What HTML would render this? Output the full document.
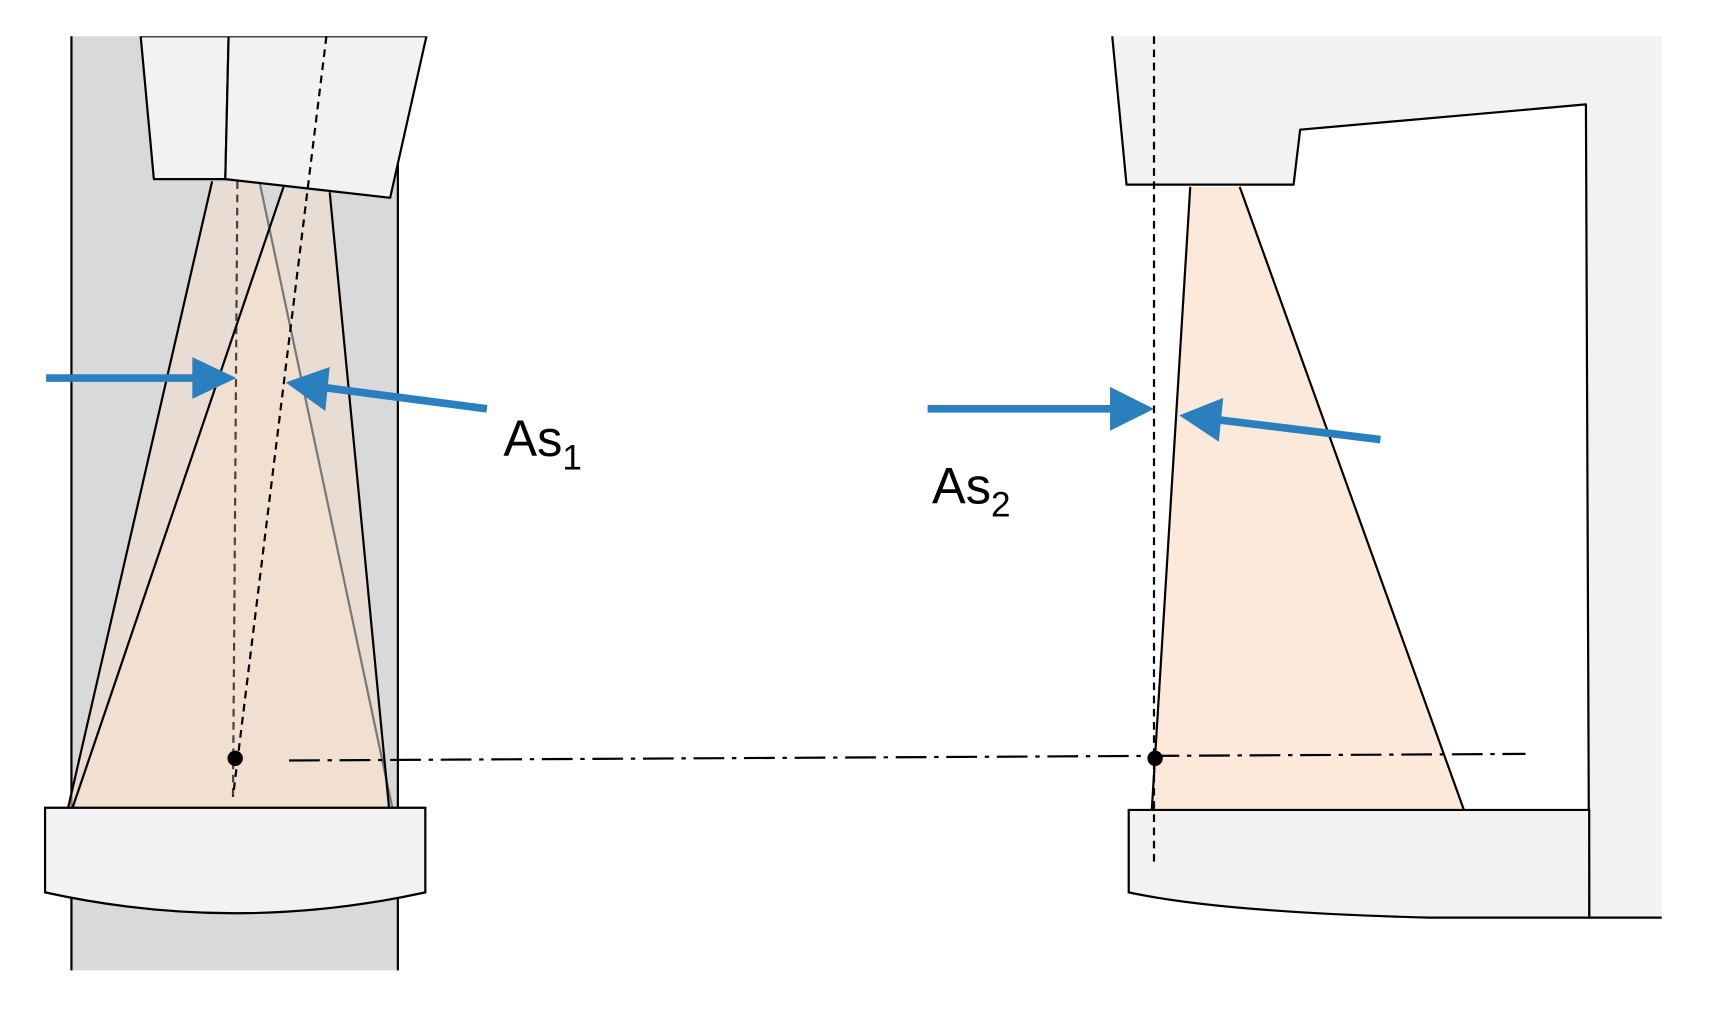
<!DOCTYPE html>
<html><head><meta charset="utf-8"><style>html,body{margin:0;padding:0;background:#fff;}svg{display:block}</style></head>
<body>
<svg width="1720" height="1016" viewBox="0 0 1565 924.5" preserveAspectRatio="none" xmlns="http://www.w3.org/2000/svg">
<!-- LEFT PANEL -->
<rect x="65" y="33" width="297" height="850" fill="#d9d9d9"/>
<line x1="65" y1="33" x2="65" y2="883" stroke="#000" stroke-width="2"/>
<line x1="362" y1="140" x2="362" y2="883" stroke="#000" stroke-width="2"/>
<!-- beams -->
<polygon points="193,165 236,165 357,735 62,735" fill="rgb(250,225,205)" fill-opacity="0.5"/>
<polygon points="258,172 300,175 352,735 68,735" fill="rgb(250,225,205)" fill-opacity="0.5"/>
<line x1="193" y1="165" x2="62" y2="735" stroke="#000" stroke-width="2"/>
<line x1="236" y1="165" x2="357" y2="735" stroke="#777" stroke-width="2"/>
<line x1="258" y1="170" x2="66" y2="735" stroke="#000" stroke-width="2"/>
<line x1="300" y1="175" x2="354" y2="735" stroke="#000" stroke-width="2"/>
<!-- upper lens -->
<polygon points="128,33 208,33 205,163 140,163" fill="#f2f2f2" stroke="#000" stroke-width="2" stroke-linejoin="round"/>
<polygon points="208,33 388,33 355,180 205,163" fill="#f2f2f2" stroke="#000" stroke-width="2" stroke-linejoin="round"/>
<rect x="127" y="30" width="262" height="3" fill="#fff"/>
<!-- dashed -->
<line x1="216" y1="165" x2="212" y2="725" stroke="#000" stroke-width="2" stroke-dasharray="7,5" stroke-opacity="0.7"/>
<line x1="297" y1="33" x2="212" y2="725" stroke="#000" stroke-width="2" stroke-dasharray="7,5"/>
<circle cx="214" cy="690" r="7" fill="#000"/>
<!-- bottom lens -->
<path d="M41,735 L387,735 L387,812 Q214,850 41,812 Z" fill="#f2f2f2" stroke="#000" stroke-width="2"/>
<!-- arrows -->
<line x1="42" y1="344" x2="180" y2="344" stroke="#2a7fbf" stroke-width="7"/>
<polygon points="175,325 215,344 175,363" fill="#2a7fbf"/>
<line x1="443" y1="372" x2="290" y2="352" stroke="#2a7fbf" stroke-width="7"/>
<polygon points="260,348 300,334 296,374" fill="#2a7fbf"/>
<text x="458" y="415" font-family="Liberation Sans, sans-serif" font-size="46" fill="#000">As<tspan font-size="32" dy="12">1</tspan></text>
<!-- RIGHT PANEL -->
<polygon points="1012,33 1512,33 1512,835 1446,835 1443,95 1183,118 1177,168 1025,168" fill="#f2f2f2"/>
<polyline points="1012,33 1025,168 1177,168 1183,118 1443,95 1446,835 1512,835" fill="none" stroke="#000" stroke-width="2" stroke-linejoin="round"/>
<polygon points="1083,170 1128,170 1332,737 1048,737" fill="#fde9d9"/>
<line x1="1083" y1="170" x2="1048" y2="737" stroke="#000" stroke-width="2"/>
<line x1="1128" y1="170" x2="1332" y2="737" stroke="#000" stroke-width="2"/>
<path d="M1027,737 L1446,737 L1446,835 L1300,835 Q1110,830 1027,812 Z" fill="#f2f2f2" stroke="#000" stroke-width="2"/>
<line x1="1050" y1="33" x2="1050" y2="785" stroke="#000" stroke-width="2" stroke-dasharray="7,5"/>
<!-- dash-dot -->
<line x1="263" y1="692" x2="1388" y2="686" stroke="#000" stroke-width="2" stroke-dasharray="28,7,4,7"/>
<circle cx="1051" cy="690" r="7" fill="#000"/>
<line x1="844" y1="372" x2="1015" y2="372" stroke="#2a7fbf" stroke-width="7"/>
<polygon points="1010,352 1050,372 1010,392" fill="#2a7fbf"/>
<line x1="1256" y1="400" x2="1100" y2="381" stroke="#2a7fbf" stroke-width="7"/>
<polygon points="1073,378 1113,362 1109,402" fill="#2a7fbf"/>
<text x="848" y="458" font-family="Liberation Sans, sans-serif" font-size="46" fill="#000">As<tspan font-size="32" dy="12">2</tspan></text>
</svg>
</body></html>
